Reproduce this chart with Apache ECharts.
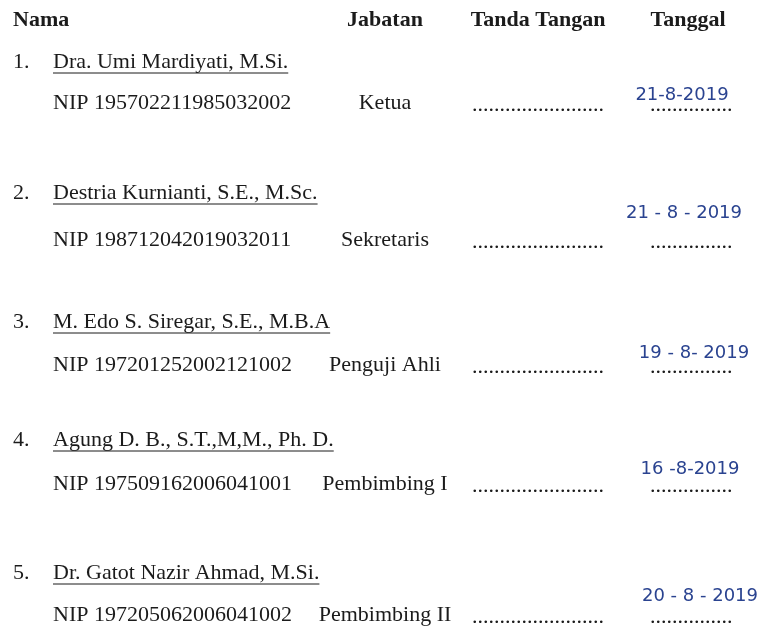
<!DOCTYPE html>
<html>
<head>
<meta charset="utf-8">
<script src="https://cdn.jsdelivr.net/npm/echarts@6/dist/echarts.min.js"></script>
<style>
  html, body { margin: 0; padding: 0; background: #fff; }
  #main { width: 767px; height: 627px; }
</style>
</head>
<body>
<div id="main"></div>
<script>
// 表头
var headers = ['Nama', 'Jabatan', 'Tanda Tangan', 'Tanggal'];
// 每行的数据
var names = [
  'Dra. Umi Mardiyati, M.Si.',
  'Destria Kurnianti, S.E., M.Sc.',
  'M. Edo S. Siregar, S.E., M.B.A',
  'Agung D. B., S.T.,M,M., Ph. D.',
  'Dr. Gatot Nazir Ahmad, M.Si.'
];
var nips = ['195702211985032002', '198712042019032011', '197201252002121002', '197509162006041001', '197205062006041002'];
var jabatan = ['Ketua', 'Sekretaris', 'Penguji Ahli', 'Pembimbing I', 'Pembimbing II'];
var tanggal = ['21-8-2019', '21 - 8 - 2019', '19 - 8- 2019', '16 -8-2019', '20 - 8 - 2019'];

(function () {
  var chart = echarts.init(document.getElementById('main'));
  var serif = '"Liberation Serif", "Times New Roman", serif';
  var font = '22px ' + serif;
  var bold = 'bold 22px ' + serif;
  var ink = '#1b1b1b';
  var blue = '#2a4390';

  // 版面位置
  var nameY = [62, 193, 322, 440, 573];
  var nipY = [103, 240, 365, 484, 615];
  var dateY = [95, 213, 353, 469, 596];
  var dateX = [682, 684, 694, 690, 700];

  // 测量文字宽度，给名字画下划线
  var ctx = document.createElement('canvas').getContext('2d');
  ctx.font = font;

  var g = [];
  function txt(s, x, y, f, align, color) {
    g.push({
      type: 'text',
      style: { text: s, x: x, y: y, font: f, fill: color || ink, align: align || 'left', verticalAlign: 'middle' }
    });
  }

  txt(headers[0], 13, 20, bold);
  txt(headers[1], 385, 20, bold, 'center');
  txt(headers[2], 538, 20, bold, 'center');
  txt(headers[3], 688, 20, bold, 'center');

  for (var i = 0; i < names.length; i++) {
    txt((i + 1) + '.', 13, nameY[i], font);
    txt(names[i], 53, nameY[i], font);
    var w = ctx.measureText(names[i]).width;
    g.push({
      type: 'line',
      shape: { x1: 53, y1: nameY[i] + 11, x2: 53 + w, y2: nameY[i] + 11 },
      style: { stroke: ink, lineWidth: 1 }
    });
    txt('NIP ' + nips[i], 53, nipY[i], font);
    txt(jabatan[i], 385, nipY[i], font, 'center');
    // 签名与日期的虚线
    txt('........................', 472, nipY[i] + 2, font);
    txt('...............', 650, nipY[i] + 2, font);
    // 手写日期
    txt(tanggal[i], dateX[i], dateY[i], '18px "DejaVu Sans", sans-serif', 'center', blue);
  }

  chart.setOption({
    backgroundColor: '#fff',
    graphic: g
  });
})();
</script>
</body>
</html>
